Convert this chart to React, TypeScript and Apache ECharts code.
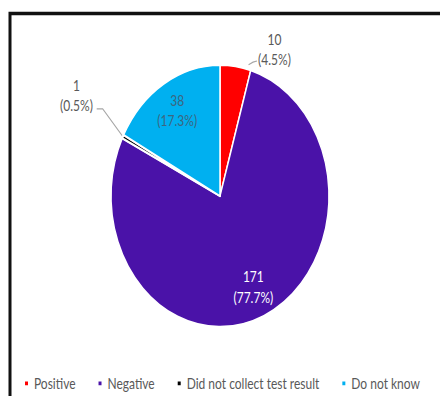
import React, { useEffect, useRef } from "react";
import * as echarts from "echarts";

const categories = ["Positive", "Negative", "Did not collect test result", "Do not know"];
const counts = [10, 171, 1, 38];
const colors = ["#ff0000", "#4a12a8", "#000000", "#00b0f0"];
const insideLabelColors = ["#595959", "#ffffff", "#595959", "#3d6680"];
const labelInside = [false, true, false, true];

export default function App() {
  const ref = useRef<HTMLDivElement>(null);
  useEffect(() => {
    const chart = echarts.init(ref.current!, null, { renderer: "svg" });
    const total = counts.reduce((a, b) => a + b, 0);
    const pctText = counts.map((v) => ((v / total) * 100).toFixed(1));
    const CX = 220;
    const CY = 163.3;
    const R = 109;
    let acc = 0;
    const starts: number[] = [];
    const mids = counts.map((v) => {
      starts.push(Math.PI / 2 - (acc / total) * 2 * Math.PI);
      const m = (acc + v / 2) / total;
      acc += v;
      return Math.PI / 2 - m * 2 * Math.PI;
    });
    const pt = (a: number, r: number) => [CX + r * Math.cos(a), CY - r * Math.sin(a)];

    chart.setOption({
      animation: false,
      backgroundColor: "#ffffff",
      textStyle: { fontFamily: "Lato" },
      graphic: [
        {
          type: "rect",
          shape: { x: 10, y: 11.3, width: 500, height: 400 },
          style: { fill: "none", stroke: "#111111", lineWidth: 3 },
          silent: true,
        },
      ],
      legend: {
        data: categories,
        top: 308.5,
        left: 18,
        icon: "rect",
        itemWidth: 5,
        itemHeight: 5,
        itemGap: 21,
        textStyle: { fontSize: 12, color: "#595959", fontFamily: "Lato" },
      },
      series: [
        {
          type: "pie",
          center: [CX, CY],
          radius: R,
          startAngle: 90,
          clockwise: true,
          itemStyle: { borderColor: "#ffffff", borderWidth: 1.5 },
          label: {
            show: true,
            position: "outside",
            fontSize: 12,
            lineHeight: 17,
            color: "#595959",
            fontFamily: "Lato",
            formatter: (p: any) => `${counts[p.dataIndex]}\n(${pctText[p.dataIndex]}%)`,
          },
          labelLine: { show: true, lineStyle: { color: "#a6a6a6", width: 1 } },
          labelLayout: (p: any) => {
            const i = p.dataIndex;
            if (labelInside[i]) {
              const [x, y] = pt(mids[i], R * 0.76);
              return { x, y, align: "center", verticalAlign: "middle" };
            }
            if (i === 0) {
              return {
                x: CX + 54.5,
                y: CY - 122,
                align: "center",
                verticalAlign: "middle",
                labelLinePoints: [pt(starts[1] + 0.03, R + 4), [CX + 33, CY - 111.5], [CX + 37, CY - 112.5]],
              };
            }
            return {
              x: CX - 143.5,
              y: CY - 83.7,
              align: "center",
              verticalAlign: "middle",
              labelLinePoints: [pt(mids[i], R), [CX - 117.3, CY - 72.5], [CX - 123.3, CY - 72.5]],
            };
          },
          data: categories.map((name, i) => ({
            name,
            value: counts[i],
            itemStyle: { color: colors[i], borderWidth: counts[i] / total < 0.01 ? 2 : 1.5 },
            label: labelInside[i]
              ? { position: "inside", color: insideLabelColors[i] }
              : { position: "outside", color: "#595959" },
            labelLine: { show: !labelInside[i] },
          })),
        },
      ],
    });
    return () => chart.dispose();
  }, []);

  return (
    <div
      style={{
        position: "absolute",
        left: 0,
        top: 0,
        width: 440,
        height: 396,
        overflow: "hidden",
        background: "#ffffff",
      }}
    >
      <div
        ref={ref}
        style={{ width: 440, height: 330, transform: "scaleY(1.2)", transformOrigin: "0 0" }}
      />
    </div>
  );
}
